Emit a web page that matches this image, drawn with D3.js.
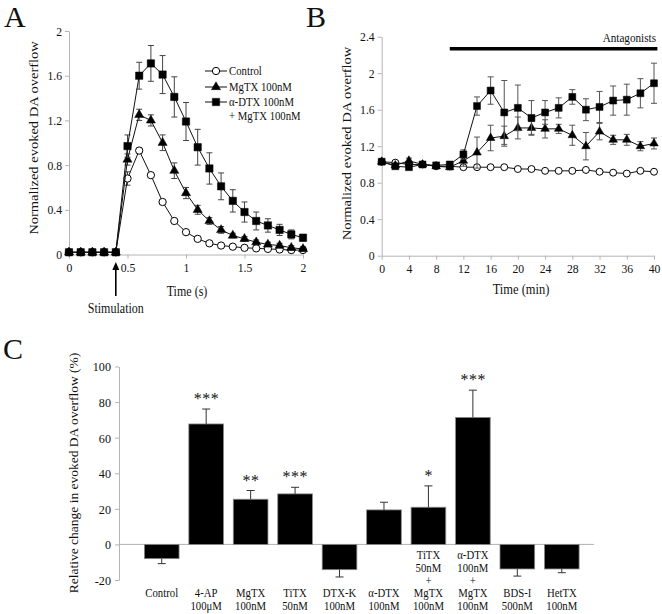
<!DOCTYPE html>
<html><head><meta charset="utf-8">
<script src="https://cdn.jsdelivr.net/npm/d3@7/dist/d3.min.js"></script>
<style>
body{margin:0;background:#fff;}
text{font-family:"Liberation Serif","Times New Roman",serif;fill:#111;}
</style></head>
<body><svg id="chart" width="662" height="614"></svg>
<script>
// ---------- Panel A data ----------
const timeA = [0,0.1,0.2,0.3,0.4,0.5,0.6,0.7,0.8,0.9,1.0,1.1,1.2,1.3,1.4,1.5,1.6,1.7,1.8,1.9,2.0];
const controlA    = [0.02,0.02,0.02,0.02,0.02,0.68,0.93,0.71,0.47,0.30,0.20,0.14,0.10,0.08,0.07,0.06,0.055,0.05,0.045,0.04,0.04];
const controlAErr = [0,0,0,0,0,0.06,0.02,0.02,0.02,0.015,0.01,0.01,0.01,0.01,0.01,0.01,0.01,0.01,0.01,0.01,0.01];
const mgtxA       = [0.02,0.02,0.02,0.02,0.02,0.85,1.25,1.20,1.00,0.75,0.55,0.40,0.30,0.22,0.17,0.14,0.11,0.09,0.08,0.06,0.05];
const mgtxAErr    = [0,0,0,0,0,0.05,0.05,0.05,0.07,0.07,0.05,0.04,0.03,0.03,0.02,0.02,0.02,0.02,0.02,0.02,0.02];
const comboA      = [0.02,0.02,0.02,0.02,0.02,0.97,1.60,1.71,1.61,1.41,1.19,0.96,0.77,0.61,0.48,0.38,0.30,0.26,0.22,0.18,0.15];
const comboAErr   = [0,0,0,0,0,0.10,0.12,0.16,0.17,0.18,0.17,0.16,0.14,0.12,0.10,0.09,0.08,0.06,0.05,0.04,0.03];
const xTicksA = [0,0.5,1,1.5,2];
const yTicksA = [0,0.4,0.8,1.2,1.6,2];
const stimTime = 0.4;
const legendA = [["Control"],["MgTX 100nM"],["α-DTX 100nM","+ MgTX 100nM"]];

// ---------- Panel B data ----------
const timeB = [0,2,4,6,8,10,12,14,16,18,20,22,24,26,28,30,32,34,36,38,40];
const controlB    = [1.03,1.02,1.00,1.00,0.98,0.98,0.97,0.97,0.97,0.97,0.95,0.95,0.93,0.93,0.93,0.94,0.92,0.91,0.90,0.93,0.92];
const controlBErr = [0.01,0.01,0.01,0.01,0.01,0.01,0.01,0.01,0.01,0.01,0.01,0.01,0.01,0.01,0.01,0.01,0.01,0.01,0.01,0.01,0.01];
const mgtxB       = [1.03,0.99,1.04,1.00,0.98,0.97,1.04,1.13,1.29,1.31,1.40,1.40,1.39,1.39,1.32,1.20,1.36,1.27,1.27,1.20,1.23];
const mgtxBErr    = [0.02,0.02,0.03,0.02,0.02,0.03,0.06,0.17,0.14,0.11,0.12,0.07,0.10,0.05,0.11,0.15,0.09,0.05,0.06,0.05,0.06];
const comboB      = [1.03,0.98,0.97,1.00,0.99,1.00,1.11,1.64,1.81,1.57,1.62,1.51,1.57,1.62,1.74,1.60,1.63,1.70,1.71,1.78,1.89];
const comboBErr   = [0.02,0.02,0.02,0.02,0.02,0.03,0.05,0.10,0.15,0.35,0.25,0.19,0.13,0.11,0.08,0.12,0.17,0.16,0.17,0.16,0.22];
const xTicksB = [0,4,8,12,16,20,24,28,32,36,40];
const yTicksB = [0,0.4,0.8,1.2,1.6,2,2.4];
const antagonistStart = 10, antagonistEnd = 40.5;

// ---------- Panel C data ----------
const catsC = ["Control","4-AP","MgTX","TiTX","DTX-K","α-DTX","TiTX+MgTX","α-DTX+MgTX","BDS-I","HetTX"];
const catLabelsC = [["Control"],["4-AP","100μM"],["MgTX","100nM"],["TiTX","50nM"],["DTX-K","100nM"],["α-DTX","100nM"],
  ["TiTX","50nM","+","MgTX","100nM"],["α-DTX","100nM","+","MgTX","100nM"],["BDS-I","500nM"],["HetTX","100nM"]];
const valuesC = [-8, 67.7, 25.4, 28.4, -14.2, 19.4, 20.9, 71.4, -13.8, -13.8];
const errorsC = [2.8, 8.4, 4.9, 3.7, 4.1, 4.3, 12.0, 15.3, 4.0, 2.1];
const starsC  = [0, 3, 2, 3, 0, 0, 1, 3, 0, 0];
const yTicksC = [-20,0,20,40,60,80,100];

// ---------- drawing ----------
const SX = 0.86;
const FONT = '"Liberation Serif","Times New Roman",serif';
const svg = d3.select("#chart");
svg.append("rect").attr("width",662).attr("height",614).attr("fill","#fff");
const AX = "#b4b4b4";

function txt(parent, x, y, s, size, anchor, rotate){
  const g = parent.append("g").attr("transform",`translate(${x},${y}) scale(${SX},1)` + (rotate?" rotate(-90)":""));
  return g.append("text").attr("text-anchor", anchor||"middle").attr("dy","0.35em")
    .attr("font-family",FONT).attr("fill","#111").attr("font-size", size).text(s);
}
function styleAxis(g, size){
  g.select(".domain").attr("stroke", AX);
  g.selectAll(".tick line").attr("stroke", AX);
  g.selectAll(".tick text").attr("font-size", size).attr("fill","#111").attr("font-family",FONT);
}
const TSX = 0.9;
function leftAxis(scale, ticks, x, labelOffset, size){
  const g = svg.append("g").attr("transform",`translate(${x},0)`)
    .call(d3.axisLeft(scale).tickValues(ticks).tickSize(4).tickSizeOuter(0).tickFormat(d=>String(d)));
  styleAxis(g, size);
  g.selectAll(".tick text").attr("x", -labelOffset/TSX).attr("transform",`scale(${TSX},1)`);
  return g;
}
function bottomAxis(scale, ticks, y, size){
  const g = svg.append("g").attr("transform",`translate(0,${y})`)
    .call(d3.axisBottom(scale).tickValues(ticks).tickSize(4).tickSizeOuter(0).tickFormat(d=>String(d)));
  styleAxis(g, size);
  g.selectAll(".tick text").attr("y", 8).attr("transform",`scale(${TSX},1)`);
  return g;
}

const symCircle = d3.symbol().type(d3.symbolCircle);
const symTri = d3.symbol().type(d3.symbolTriangle);
const symSq = d3.symbol().type(d3.symbolSquare);

function series(xs, ys, es, xScale, yScale, kind, sizes, errColor, cap){
  const g = svg.append("g");
  const pts = xs.map((x,i)=>({x, y:ys[i], e:es[i]}));
  const eg = g.append("g").attr("stroke", errColor).attr("stroke-width",1).attr("fill","none");
  pts.filter(p=>p.e>0.012).forEach(p=>{
    const cx = xScale(p.x), y1 = yScale(p.y - p.e), y2 = yScale(p.y + p.e);
    eg.append("line").attr("x1",cx).attr("x2",cx).attr("y1",y1).attr("y2",y2);
    eg.append("line").attr("x1",cx-cap).attr("x2",cx+cap).attr("y1",y1).attr("y2",y1);
    eg.append("line").attr("x1",cx-cap).attr("x2",cx+cap).attr("y1",y2).attr("y2",y2);
  });
  g.append("path").datum(pts).attr("fill","none").attr("stroke","#111").attr("stroke-width",1)
    .attr("d", d3.line().x(p=>xScale(p.x)).y(p=>yScale(p.y)));
  const sym = kind==="circle"?symCircle.size(sizes.circle):kind==="tri"?symTri.size(sizes.tri):symSq.size(sizes.sq);
  g.selectAll("path.m").data(pts).join("path").attr("class","m")
    .attr("transform",p=>`translate(${xScale(p.x)},${yScale(p.y)})`)
    .attr("d", sym())
    .attr("fill", kind==="circle"?"#fff":"#000")
    .attr("stroke","#000").attr("stroke-width", kind==="circle"?1:0.5);
}

// ===== Panel A =====
const xA = d3.scaleLinear().domain([0,2]).range([69,303]);
const yA = d3.scaleLinear().domain([0,2]).range([254.5,31]);
leftAxis(yA, yTicksA, 69, 7, 13);
bottomAxis(xA, xTicksA, 254.5, 13);
const sizesA = {circle:42, tri:36, sq:54};
series(timeA, controlA, controlAErr, xA, yA, "circle", sizesA, "#444", 3);
series(timeA, mgtxA, mgtxAErr, xA, yA, "tri", sizesA, "#444", 3);
series(timeA, comboA, comboAErr, xA, yA, "sq", sizesA, "#444", 3);

const legY = [71, 87, 102];
const legKinds = ["circle","tri","sq"];
legendA.forEach((lines,i)=>{
  const y = legY[i];
  svg.append("line").attr("x1",205).attr("x2",227).attr("y1",y).attr("y2",y).attr("stroke","#111");
  const k = legKinds[i];
  const sym = k==="circle"?symCircle.size(42):k==="tri"?symTri.size(36):symSq.size(54);
  svg.append("path").attr("transform",`translate(216,${y})`).attr("d",sym())
    .attr("fill",k==="circle"?"#fff":"#000").attr("stroke","#000").attr("stroke-width",k==="circle"?1:0.5);
  lines.forEach((s,j)=>txt(svg, 229, y + j*14, s, 12.5, "start"));
});

txt(svg, 33.5, 138, "Normalized evoked DA overflow", 14.5, "middle", true);
txt(svg, 187, 291, "Time (s)", 14, "middle");
txt(svg, xA(stimTime), 308, "Stimulation", 14, "middle");
{
  const ax = xA(stimTime);
  svg.append("line").attr("x1",ax).attr("x2",ax).attr("y1",268).attr("y2",296).attr("stroke","#000").attr("stroke-width",1.6);
  svg.append("path").attr("d",`M${ax},262 L${ax-3.5},270 L${ax+3.5},270 Z`).attr("fill","#000");
}

// ===== Panel B =====
const xB = d3.scaleLinear().domain([0,40]).range([381.7,654]);
const yB = d3.scaleLinear().domain([0,2.4]).range([255.7,36.7]);
leftAxis(yB, yTicksB, 381.7, 7, 13);
bottomAxis(xB, xTicksB, 255.7, 13);
const sizesB = {circle:38, tri:32, sq:48};
series(timeB, controlB, controlBErr, xB, yB, "circle", sizesB, "#555", 3);
series(timeB, mgtxB, mgtxBErr, xB, yB, "tri", sizesB, "#555", 3);
series(timeB, comboB, comboBErr, xB, yB, "sq", sizesB, "#555", 3);
svg.append("line").attr("x1",xB(antagonistStart)).attr("x2",xB(antagonistEnd)).attr("y1",48.8).attr("y2",48.8)
  .attr("stroke","#000").attr("stroke-width",3.5);
txt(svg, 656, 37, "Antagonists", 13, "end");
txt(svg, 347, 143.5, "Normalized evoked DA overflow", 14.5, "middle", true);
txt(svg, 521, 289, "Time (min)", 14.5, "middle");

// ===== Panel C =====
const xC = d3.scaleBand().domain(catsC).range([139.5,584]).paddingInner(0.22).paddingOuter(0.11);
const yC = d3.scaleLinear().domain([-20,100]).range([580,366.5]);
leftAxis(yC, yTicksC, 119, 8, 13.5);
svg.append("line").attr("x1",119).attr("x2",594).attr("y1",yC(0)).attr("y2",yC(0)).attr("stroke",AX);

const cData = catsC.map((c,i)=>({c, v:valuesC[i], e:errorsC[i], s:starsC[i], lab:catLabelsC[i]}));
const cg = svg.append("g");
cg.selectAll("rect").data(cData).join("rect")
  .attr("x", d=>xC(d.c)).attr("width", xC.bandwidth())
  .attr("y", d=>yC(Math.max(0,d.v))).attr("height", d=>Math.abs(yC(d.v)-yC(0)))
  .attr("fill","#000").attr("stroke","#8a8a8a").attr("stroke-width",0.8);
cData.forEach(d=>{
  const cx = xC(d.c) + xC.bandwidth()/2;
  const end = d.v >= 0 ? d.v + d.e : d.v - d.e;
  cg.append("line").attr("x1",cx).attr("x2",cx).attr("y1",yC(d.v)).attr("y2",yC(end)).attr("stroke","#333");
  cg.append("line").attr("x1",cx-4).attr("x2",cx+4).attr("y1",yC(end)).attr("y2",yC(end)).attr("stroke","#333");
  if(d.s){
    const t = cg.append("text").attr("y",yC(end)-5).attr("text-anchor","middle")
      .attr("font-family",FONT).attr("font-size",16).attr("fill","#222");
    const sp = 8.5;
    for(let k=0;k<d.s;k++){
      t.append("tspan").attr("x", cx + (k-(d.s-1)/2)*sp).text("*");
    }
  }
  const n = d.lab.length;
  const start = 593 - 12.8*Math.max(0,n-2);
  d.lab.forEach((s,j)=>txt(svg, cx, start + j*12.8, s, 12.5, "middle"));
});
txt(svg, 74, 473, "Relative change in evoked DA overflow (%)", 13.5, "middle", true);

// panel letters
[["A",4,27],["B",306,27],["C",3,359]].forEach(([s,x,y])=>
  svg.append("text").attr("x",x).attr("y",y).attr("font-size",30).attr("font-family",FONT).attr("fill","#111").text(s));
</script></body></html>
